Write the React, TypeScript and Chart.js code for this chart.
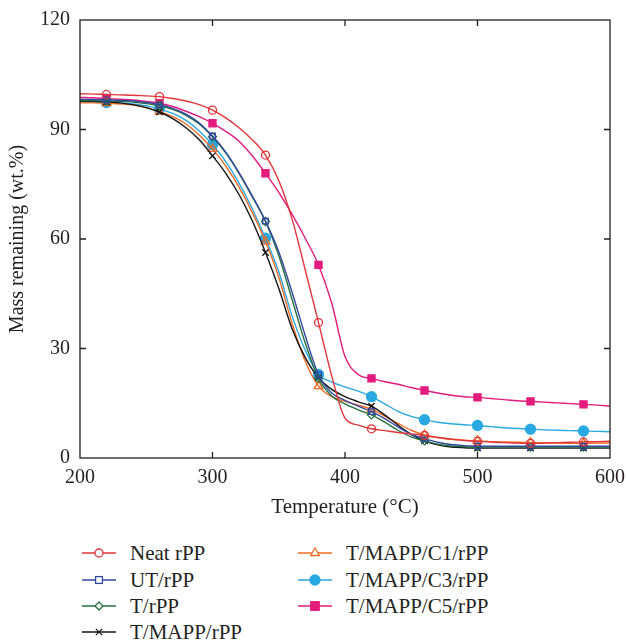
import React, { useEffect, useRef } from "react";
import { Chart, registerables } from "chart.js";

Chart.register(...registerables);

// Temperature (°C)
const temperatures = [
  200, 210, 220, 230, 240, 250, 260, 270, 280, 290, 300, 310, 320, 330, 340, 350, 360, 370, 380, 390, 400,
  410, 420, 430, 440, 450, 460, 470, 480, 490, 500, 510, 520, 530, 540, 550, 560, 570, 580, 590, 600,
];
const markerTemperatures = [220, 260, 300, 340, 380, 420, 460, 500, 540, 580];
const xTickValues = [200, 300, 400, 500, 600];
const yTickValues = [0, 30, 60, 90, 120];

// Mass remaining (wt.%)
const neatRPP = [
  99.8, 99.7, 99.6, 99.5, 99.4, 99.2, 99.0, 98.5, 97.8, 96.8, 95.3, 93.2, 90.5, 87.2, 83.0, 76.0, 65.5, 51.5, 37.1, 22.5, 10.9,
  9.0, 8.0, 7.5, 7.0, 6.6, 6.2, 5.6, 5.1, 4.8, 4.6, 4.4, 4.2, 4.1, 4.0, 4.1, 4.2, 4.3, 4.4, 4.5, 4.6,
];
const utRPP = [
  98.3, 98.2, 98.1, 98.0, 97.8, 97.4, 96.8, 95.8, 94.2, 91.8, 88.2, 83.8, 78.2, 71.8, 64.9, 56.5, 45.5, 33.5, 22.8, 17.8, 15.8,
  14.2, 12.7, 10.8, 8.5, 6.5, 5.3, 4.3, 3.7, 3.4, 3.3, 3.2, 3.2, 3.2, 3.2, 3.2, 3.2, 3.2, 3.2, 3.2, 3.2,
];
const tRPP = [
  98.0, 97.9, 97.8, 97.7, 97.5, 97.1, 96.5, 95.5, 93.9, 91.5, 88.0, 83.6, 78.0, 71.6, 64.8, 55.5, 43.5, 31.5, 21.8, 17.0, 14.8,
  13.2, 11.8, 9.8, 7.6, 5.8, 4.7, 3.8, 3.3, 3.1, 3.0, 3.0, 3.0, 3.0, 3.0, 3.0, 3.0, 3.0, 3.0, 3.0, 3.0,
];
const tMappRPP = [
  97.8, 97.7, 97.6, 97.3, 96.8, 96.0, 94.8, 93.0, 90.5, 87.2, 82.8, 78.0, 72.2, 65.0, 56.3, 46.5, 35.5, 27.5, 22.0, 18.8, 16.8,
  15.4, 14.2, 11.8, 9.0, 6.5, 4.7, 3.6, 3.0, 2.8, 2.7, 2.7, 2.7, 2.7, 2.7, 2.7, 2.7, 2.7, 2.7, 2.7, 2.7,
];
const tMappC1RPP = [
  97.3, 97.3, 97.2, 97.0, 96.7, 96.0, 94.9, 93.5, 91.5, 88.5, 84.7, 80.0, 74.2, 67.3, 59.3, 49.5, 37.0, 26.5, 19.7, 16.8, 15.5,
  14.5, 13.3, 11.5, 9.5, 7.6, 6.3, 5.6, 5.2, 4.9, 4.7, 4.5, 4.4, 4.3, 4.2, 4.1, 4.1, 4.0, 4.0, 4.1, 4.1,
];
const tMappC3RPP = [
  97.6, 97.5, 97.4, 97.3, 97.0, 96.5, 95.6, 94.4, 92.5, 89.6, 85.8, 81.2, 75.3, 68.3, 60.2, 51.0, 39.0, 29.5, 22.9, 20.8, 19.5,
  18.3, 16.8, 14.8, 12.8, 11.4, 10.5, 9.8, 9.4, 9.1, 8.9, 8.6, 8.3, 8.1, 7.9, 7.7, 7.6, 7.5, 7.4, 7.3, 7.2,
];
const tMappC5RPP = [
  98.8, 98.7, 98.5, 98.3, 98.1, 97.7, 97.2, 96.3, 95.0, 93.5, 91.7, 89.5, 86.8, 82.8, 78.0, 72.8, 66.8, 60.2, 52.9, 42.4, 27.8,
  22.9, 21.8, 20.9, 20.2, 19.3, 18.5, 17.8, 17.2, 16.8, 16.6, 16.3, 16.0, 15.7, 15.5, 15.3, 15.1, 14.9, 14.7, 14.5, 14.2,
];

const FONT = "'Liberation Serif', 'Times New Roman', serif";
const INK = "#231f20";

type Series = {
  label: string;
  values: number[];
  color: string;
  style: "circle" | "rect" | "rectRot" | "crossRot" | "triangle";
  filled: boolean;
  radius: number;
};

const series: Series[] = [
  { label: "Neat rPP", values: neatRPP, color: "#e2343a", style: "circle", filled: false, radius: 4 },
  { label: "UT/rPP", values: utRPP, color: "#3447a0", style: "rect", filled: false, radius: 4 },
  { label: "T/rPP", values: tRPP, color: "#22703c", style: "rectRot", filled: false, radius: 4 },
  { label: "T/MAPP/rPP", values: tMappRPP, color: "#151515", style: "crossRot", filled: false, radius: 4.5 },
  { label: "T/MAPP/C1/rPP", values: tMappC1RPP, color: "#f06b25", style: "triangle", filled: false, radius: 5 },
  { label: "T/MAPP/C3/rPP", values: tMappC3RPP, color: "#29a9e1", style: "circle", filled: true, radius: 5 },
  { label: "T/MAPP/C5/rPP", values: tMappC5RPP, color: "#e41b7c", style: "rect", filled: true, radius: 5 },
];

const framePlugin = {
  id: "frame",
  afterDraw(chart: any) {
    const { ctx, chartArea, scales } = chart;
    const { left, right, top, bottom } = chartArea;
    const L = 6;
    ctx.save();
    ctx.strokeStyle = INK;
    ctx.lineWidth = 1.3;
    ctx.strokeRect(left, top, right - left, bottom - top);
    ctx.beginPath();
    xTickValues.slice(1, -1).forEach((t) => {
      const px = scales.x.getPixelForValue(t);
      ctx.moveTo(px, bottom);
      ctx.lineTo(px, bottom - L);
      ctx.moveTo(px, top);
      ctx.lineTo(px, top + L);
    });
    yTickValues.slice(1, -1).forEach((v) => {
      const py = scales.y.getPixelForValue(v);
      ctx.moveTo(left, py);
      ctx.lineTo(left + L, py);
      ctx.moveTo(right, py);
      ctx.lineTo(right - L, py);
    });
    ctx.stroke();
    ctx.restore();
  },
};

function LegendIcon({ s }: { s: Series }) {
  const cx = 17;
  const cy = 8;
  const r = s.radius;
  const fill = s.filled ? s.color : "white";
  let marker: any = null;
  if (s.style === "circle") {
    marker = <circle cx={cx} cy={cy} r={r} fill={fill} stroke={s.color} strokeWidth={1.3} />;
  } else if (s.style === "rect") {
    const h = r * 0.85;
    marker = <rect x={cx - h} y={cy - h} width={2 * h} height={2 * h} fill={fill} stroke={s.color} strokeWidth={1.3} />;
  } else if (s.style === "rectRot") {
    marker = (
      <polygon
        points={`${cx},${cy - r} ${cx + r},${cy} ${cx},${cy + r} ${cx - r},${cy}`}
        fill={fill}
        stroke={s.color}
        strokeWidth={1.3}
      />
    );
  } else if (s.style === "triangle") {
    marker = (
      <polygon
        points={`${cx},${cy - r} ${cx + r * 0.87},${cy + r * 0.5} ${cx - r * 0.87},${cy + r * 0.5}`}
        fill={fill}
        stroke={s.color}
        strokeWidth={1.3}
      />
    );
  } else {
    const d = r * 0.7;
    marker = (
      <path
        d={`M${cx - d},${cy - d}L${cx + d},${cy + d}M${cx + d},${cy - d}L${cx - d},${cy + d}`}
        stroke={s.color}
        strokeWidth={1.3}
      />
    );
  }
  return (
    <svg width={34} height={16} style={{ position: "absolute", left: 0, top: 5, overflow: "visible" }}>
      <line x1={0} y1={cy} x2={34} y2={cy} stroke={s.color} strokeWidth={1.4} />
      {marker}
    </svg>
  );
}

export default function App() {
  const canvasRef = useRef<HTMLCanvasElement | null>(null);

  useEffect(() => {
    if (!canvasRef.current) return;
    const chart = new Chart(canvasRef.current, {
      type: "line",
      data: {
        datasets: series.map((s) => ({
          label: s.label,
          data: temperatures.map((t, i) => ({ x: t, y: s.values[i] })),
          borderColor: s.color,
          borderWidth: 1.4,
          backgroundColor: s.filled ? s.color : "rgba(255,255,255,0)",
          pointBorderColor: s.color,
          pointBackgroundColor: s.filled ? s.color : "rgba(255,255,255,0)",
          pointBorderWidth: 1.3,
          pointStyle: s.style,
          pointRadius: (ctx: any) => (markerTemperatures.includes(ctx.raw?.x) ? s.radius : 0),
          pointHoverRadius: 0,
          cubicInterpolationMode: "monotone" as const,
          fill: false,
        })),
      },
      options: {
        animation: false,
        responsive: true,
        maintainAspectRatio: false,
        layout: { padding: { left: 0, right: 17, top: 20, bottom: 0 } },
        plugins: { legend: { display: false }, tooltip: { enabled: false } },
        scales: {
          x: {
            type: "linear",
            min: 200,
            max: 600,
            afterBuildTicks: (s: any) => {
              s.ticks = xTickValues.map((v) => ({ value: v }));
            },
            afterFit: (s: any) => {
              s.height = 72;
              s.paddingLeft = 0;
              s.paddingRight = 0;
            },
            grid: { display: false, drawTicks: false },
            border: { display: false },
            ticks: { font: { family: FONT, size: 20 }, color: INK, padding: 8, maxRotation: 0, autoSkip: false },
            title: {
              display: true,
              text: "Temperature (°C)",
              font: { family: FONT, size: 21 },
              color: INK,
              padding: { top: 0, bottom: 10 },
            },
          },
          y: {
            type: "linear",
            min: 0,
            max: 120,
            afterBuildTicks: (s: any) => {
              s.ticks = yTickValues.map((v) => ({ value: v }));
            },
            afterFit: (s: any) => {
              s.width = 80;
              s.paddingTop = 0;
              s.paddingBottom = 0;
            },
            grid: { display: false, drawTicks: false },
            border: { display: false },
            ticks: { font: { family: FONT, size: 20 }, color: INK, padding: 10 },
            title: {
              display: true,
              text: "Mass remaining (wt.%)",
              font: { family: FONT, size: 20 },
              color: INK,
              padding: { top: 6, bottom: 0 },
            },
          },
        },
      },
      plugins: [framePlugin],
    });
    return () => chart.destroy();
  }, []);

  const legendPositions = [
    { left: 82, top: 553 },
    { left: 82, top: 580 },
    { left: 82, top: 606 },
    { left: 82, top: 632 },
    { left: 298, top: 553 },
    { left: 298, top: 580 },
    { left: 298, top: 606 },
  ];

  return (
    <div style={{ position: "fixed", left: 0, top: 0, width: 627, height: 641, overflow: "hidden", background: "white" }}>
      <div style={{ position: "absolute", left: 0, top: 0, width: 627, height: 530 }}>
        <canvas ref={canvasRef} />
      </div>
      {series.map((s, i) => (
        <div
          key={s.label}
          style={{
            position: "absolute",
            left: legendPositions[i].left,
            top: legendPositions[i].top - 13,
            height: 26,
            lineHeight: "26px",
            fontFamily: FONT,
            fontSize: 21,
            color: INK,
            whiteSpace: "nowrap",
          }}
        >
          <LegendIcon s={s} />
          <span style={{ position: "absolute", left: 48, top: 0 }}>{s.label}</span>
        </div>
      ))}
    </div>
  );
}
